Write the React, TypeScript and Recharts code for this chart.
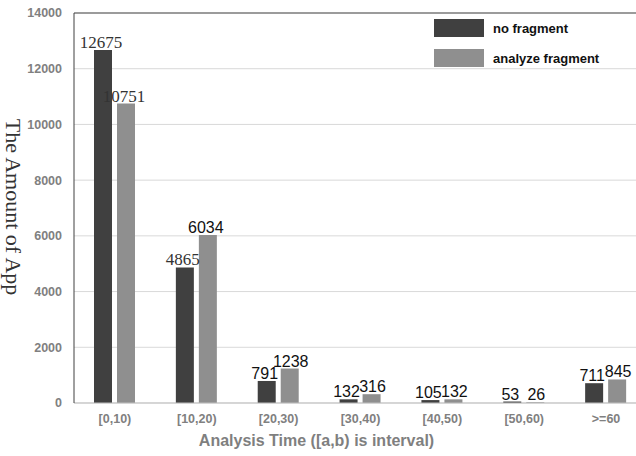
import React from "react";
import {
  BarChart,
  Bar,
  XAxis,
  YAxis,
  CartesianGrid,
  ReferenceLine,
} from "recharts";

const CATEGORIES = ["[0,10)", "[10,20)", "[20,30)", "[30,40)", "[40,50)", "[50,60)", ">=60"];
const NO_FRAGMENT = [12675, 4865, 791, 132, 105, 53, 711];
const ANALYZE_FRAGMENT = [10751, 6034, 1238, 316, 132, 26, 845];
const Y_TICKS = [0, 2000, 4000, 6000, 8000, 10000, 12000, 14000];

const DARK = "#404040";
const LIGHT = "#8f8f8f";
const SANS = "'Liberation Sans', Arial, sans-serif";
const SERIF = "'Liberation Serif', 'Times New Roman', serif";

const data = CATEGORIES.map((name, i) => ({
  name,
  noFragment: NO_FRAGMENT[i],
  analyzeFragment: ANALYZE_FRAGMENT[i],
}));

// the first few labels were typeset in a serif face; small ones are nudged apart
const makeLabel = (serifUpTo: number, nudge: number) => (props: any) => {
  const { x, y, width, value, index } = props;
  const serif = index <= serifUpTo;
  const dx = index >= 2 ? nudge : -2;
  return (
    <text
      x={Number(x) + Number(width) / 2 + dx}
      y={Number(y) - 2}
      textAnchor="middle"
      fontFamily={serif ? SERIF : SANS}
      fontSize={serif ? 17 : 16}
      fill={serif ? "#333" : "#111"}
    >
      {value}
    </text>
  );
};

function LegendBox() {
  const items = [
    { label: "no fragment", color: DARK },
    { label: "analyze fragment", color: LIGHT },
  ];
  return (
    <div
      style={{
        position: "absolute",
        top: 19,
        left: 434,
        fontFamily: SANS,
        fontWeight: "bold",
        fontSize: 13,
      }}
    >
      {items.map((it) => (
        <div
          key={it.label}
          style={{ display: "flex", alignItems: "center", height: 18, marginBottom: 12 }}
        >
          <div style={{ width: 50, height: 18, background: it.color, marginRight: 9 }} />
          <span style={{ color: "#111" }}>{it.label}</span>
        </div>
      ))}
    </div>
  );
}

export default function App() {
  return (
    <div
      style={{
        position: "fixed",
        left: 0,
        top: 0,
        width: 636,
        height: 456,
        overflow: "hidden",
        background: "#fff",
      }}
    >
      <BarChart
        width={650}
        height={456}
        data={data}
        margin={{ top: 13, right: 3, left: 0, bottom: 3 }}
        barSize={18}
        barGap={5}
      >
        <CartesianGrid horizontal vertical={false} stroke="#d9d9d9" />
        <ReferenceLine y={14000} stroke="#808080" strokeWidth={1.5} />
        <XAxis
          dataKey="name"
          height={50}
          tickLine={false}
          axisLine={{ stroke: "#bfbfbf" }}
          tickMargin={5}
          tick={{ fill: "#808080", fontSize: 12.5, fontWeight: "bold", fontFamily: SANS }}
          label={{
            value: "Analysis Time ([a,b) is interval)",
            position: "center",
            dx: -44,
            dy: 12,
            fill: "#7f7f7f",
            fontSize: 16,
            fontWeight: "bold",
            fontFamily: SANS,
          }}
        />
        <YAxis
          width={74}
          domain={[0, 14000]}
          ticks={Y_TICKS}
          interval={0}
          tickLine={false}
          tickSize={0}
          tickMargin={12}
          axisLine={{ stroke: "#404040" }}
          tick={{ fill: "#808080", fontSize: 12.5, fontWeight: "bold", fontFamily: SANS }}
          label={{
            value: "The Amount of App",
            angle: 90,
            position: "center",
            dx: -23,
            dy: -1,
            fill: "#333",
            fontSize: 22,
            fontFamily: SERIF,
          }}
        />
        <Bar
          dataKey="noFragment"
          name="no fragment"
          fill={DARK}
          isAnimationActive={false}
          label={makeLabel(1, -2)}
        />
        <Bar
          dataKey="analyzeFragment"
          name="analyze fragment"
          fill={LIGHT}
          isAnimationActive={false}
          label={makeLabel(0, 1)}
        />
      </BarChart>
      <LegendBox />
    </div>
  );
}
